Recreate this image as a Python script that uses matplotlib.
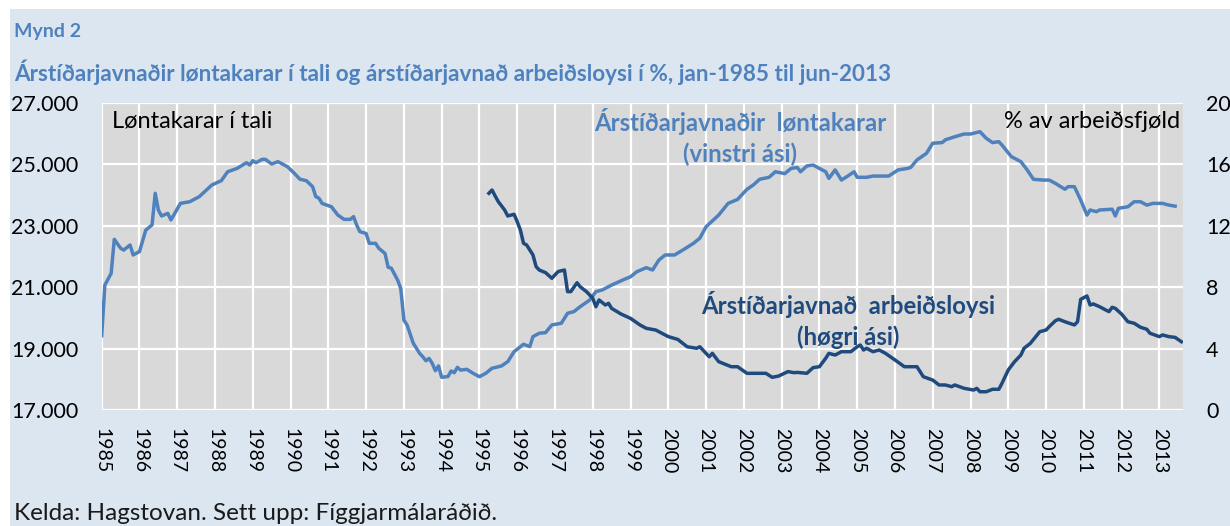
import matplotlib
matplotlib.use("Agg")
import matplotlib.pyplot as plt
from matplotlib.patches import Rectangle

plt.rcParams['font.family'] = ['Lato', 'DejaVu Sans']

# month index: 0 = jan-1985
years = list(range(1985, 2014))

emp_month = [0, 1, 3, 4, 6, 7, 9, 10, 12, 14, 16, 17, 18, 19, 21, 22, 25, 28, 30, 31,
             35, 38, 40, 43, 46, 47, 48, 49, 51, 52, 54, 56, 59, 61, 63, 65, 67, 68,
             69, 70, 73, 75, 77, 79, 80, 81, 82, 84, 85, 87, 88, 90, 91, 92, 94, 95,
             96, 97, 99, 101, 102, 103, 104, 105, 106, 107, 108, 110, 111, 112, 113,
             114, 116, 118, 120, 122, 124, 127, 129, 131, 134, 136, 137, 139, 141,
             143, 146, 148, 150, 152, 155, 157, 159, 162, 166, 168, 170, 173, 175,
             177, 179, 182, 185, 188, 190, 192, 196, 199, 202, 205, 207, 209, 212,
             214, 217, 219, 221, 222, 224, 226, 228, 230, 231, 233, 235, 237, 239,
             240, 243, 245, 250, 253, 256, 257, 259, 262, 264, 267, 268, 271, 274,
             276, 279, 281, 283, 285, 286, 289, 292, 294, 296, 299, 301, 303, 306,
             307, 309, 311, 313, 314, 316, 317, 321, 322, 323, 326, 328, 330, 332,
             334, 337, 339, 341]
emp_value = [19420, 21070, 21450, 22560, 22270, 22210, 22375, 22050, 22160, 22860,
             23030, 24060, 23515, 23320, 23405, 23190, 23730, 23785, 23895, 23950,
             24330, 24470, 24760, 24870, 25055, 24980, 25120, 25055, 25165, 25165,
             25013, 25090, 24925, 24730, 24515, 24470, 24275, 23950, 23900, 23730,
             23620, 23350, 23210, 23210, 23300, 23025, 22810, 22750, 22430, 22430,
             22270, 22100, 21650, 21620, 21235, 20960, 19930, 19770, 19170, 18845,
             18735, 18605, 18680, 18520, 18280, 18435, 18065, 18090, 18270, 18215,
             18390, 18300, 18325, 18195, 18085, 18195, 18360, 18435, 18575, 18900,
             19140, 19065, 19390, 19500, 19520, 19770, 19825, 20150, 20205, 20365,
             20580, 20855, 20910, 21070, 21255, 21340, 21505, 21635, 21560, 21885,
             22050, 22050, 22235, 22430, 22595, 22970, 23350, 23730, 23860, 24190,
             24330, 24515, 24580, 24760, 24700, 24870, 24900, 24760, 24950, 24980,
             24870, 24760, 24545, 24820, 24490, 24620, 24760, 24580, 24580, 24620,
             24620, 24820, 24870, 24900, 25145, 25360, 25690, 25710, 25800, 25900,
             25990, 25990, 26065, 25850, 25710, 25740, 25630, 25250, 25090, 24820,
             24515, 24490, 24490, 24380, 24190, 24275, 24275, 23840, 23350, 23515,
             23460, 23515, 23540, 23320, 23570, 23620, 23785, 23785, 23675, 23730,
             23730, 23675, 23640]

unemp_month = [123, 124, 125, 126, 128, 129, 131, 132, 133, 134, 135, 137, 138, 139,
               141, 143, 145, 147, 148, 149, 151, 152, 154, 156, 157, 158, 160, 161,
               162, 165, 168, 171, 173, 176, 180, 183, 186, 189, 190, 193, 194, 196,
               200, 202, 205, 211, 213, 215, 218, 220, 221, 224, 226, 228, 230, 231,
               233, 235, 238, 240, 241, 242, 243, 245, 247, 249, 252, 255, 259, 261,
               264, 266, 268, 270, 271, 274, 277, 278, 279, 281, 283, 285, 286, 288,
               290, 292, 293, 295, 298, 300, 301, 303, 304, 306, 309, 310, 311, 313,
               314, 315, 317, 319, 320, 321, 322, 324, 326, 328, 330, 332, 333, 336,
               337, 339, 341, 343]
unemp_value = [14.12, 14.33, 13.94, 13.57, 13.03, 12.64, 12.75, 12.27, 11.73, 10.86,
               10.75, 10.10, 9.34, 9.12, 8.95, 8.58, 9.02, 9.12, 7.71, 7.71, 8.29,
               8.03, 7.71, 7.28, 6.73, 7.17, 6.84, 6.95, 6.62, 6.25, 5.97, 5.54, 5.32,
               5.21, 4.78, 4.60, 4.12, 4.02, 4.12, 3.47, 3.69, 3.15, 2.82, 2.82, 2.39,
               2.39, 2.13, 2.21, 2.50, 2.43, 2.45, 2.39, 2.76, 2.82, 3.37, 3.69, 3.58,
               3.80, 3.80, 4.12, 4.23, 3.91, 4.02, 3.80, 3.91, 3.69, 3.26, 2.82, 2.82,
               2.17, 1.95, 1.63, 1.63, 1.52, 1.63, 1.41, 1.30, 1.41, 1.19, 1.19, 1.35,
               1.35, 1.74, 2.61, 3.15, 3.58, 4.02, 4.34, 5.10, 5.21, 5.43, 5.82, 5.91,
               5.75, 5.54, 5.75, 7.21, 7.43, 6.84, 6.91, 6.73, 6.51, 6.41, 6.69, 6.62,
               6.25, 5.75, 5.65, 5.39, 5.26, 5.00, 4.78, 4.89, 4.78, 4.73, 4.45]

left_ticks = [17000, 19000, 21000, 23000, 25000, 27000]
right_ticks = [0, 4, 8, 12, 16, 20]

W, H = 1230, 526
light_blue = '#4f81bd'
dark_blue = '#1f4a7d'
fig = plt.figure(figsize=(W / 100, H / 100), dpi=100, facecolor='white')
fig.patches.append(Rectangle((10 / W, 0), 1 - 10 / W, 1 - 9 / H,
                             transform=fig.transFigure, facecolor='#dce6f1',
                             edgecolor='none', zorder=-10))


def px(x, y):
    return x / W, 1 - y / H


ax = fig.add_axes([101.7 / W, 1 - 410 / H, (1183.3 - 101.7) / W, 307 / H])
ax.set_facecolor('#d9d9d9')
ax.plot(emp_month, emp_value, color=light_blue, lw=2.5, zorder=3,
        solid_joinstyle='round')
ax.set_ylim(17000, 27000)
ax.set_yticks(left_ticks)
ax.set_yticklabels([f'{v:,}'.replace(',', '.') for v in left_ticks])
ax.set_xlim(0, 343.6)
ax.set_xticks([12 * i for i in range(len(years))])
ax.set_xticklabels([str(y) for y in years], rotation=270, va='top', ha='center')
ax.grid(True, color='white', lw=1.6, zorder=1)
ax.set_axisbelow(True)
for s in ax.spines.values():
    s.set_visible(False)
ax.tick_params(axis='y', length=0, pad=17, labelsize=15.5)
ax.tick_params(axis='x', length=0, pad=13, labelsize=14)

ax2 = ax.twinx()
ax2.plot(unemp_month, unemp_value, color=dark_blue, lw=2.5, zorder=3,
         solid_joinstyle='round')
ax2.set_ylim(0, 20)
ax2.set_yticks(right_ticks)
for s in ax2.spines.values():
    s.set_visible(False)
ax2.tick_params(axis='y', length=0, pad=16.5, labelsize=15.5)

fig.text(*px(14, 32), 'Mynd 2', color=light_blue, fontsize=14,
         fontweight='bold', va='center')
fig.text(*px(14, 72),
         'Árstíðarjavnaðir løntakarar í tali og árstíðarjavnað arbeiðsloysi í %, jan-1985 til jun-2013',
         color=light_blue, fontsize=16.2, fontweight='bold', va='center')
fig.text(*px(112, 121), 'Løntakarar í tali', fontsize=17, va='center')
fig.text(*px(1180, 122), '% av arbeiðsfjøld', fontsize=17, va='center', ha='right')
fig.text(*px(740, 137), 'Árstíðarjavnaðir  løntakarar\n(vinstri ási)',
         color=light_blue, fontsize=17.2, fontweight='bold', va='center',
         ha='center', linespacing=1.4)
fig.text(*px(848, 320), 'Árstíðarjavnað  arbeiðsloysi\n(høgri ási)',
         color=dark_blue, fontsize=17.2, fontweight='bold', va='center',
         ha='center', linespacing=1.4)
fig.text(*px(14, 513), 'Kelda: Hagstovan. Sett upp: Fíggjarmálaráðið.',
         fontsize=17.5, va='center', color='#1a1a1a')

fig.savefig('out.png', dpi=100)
